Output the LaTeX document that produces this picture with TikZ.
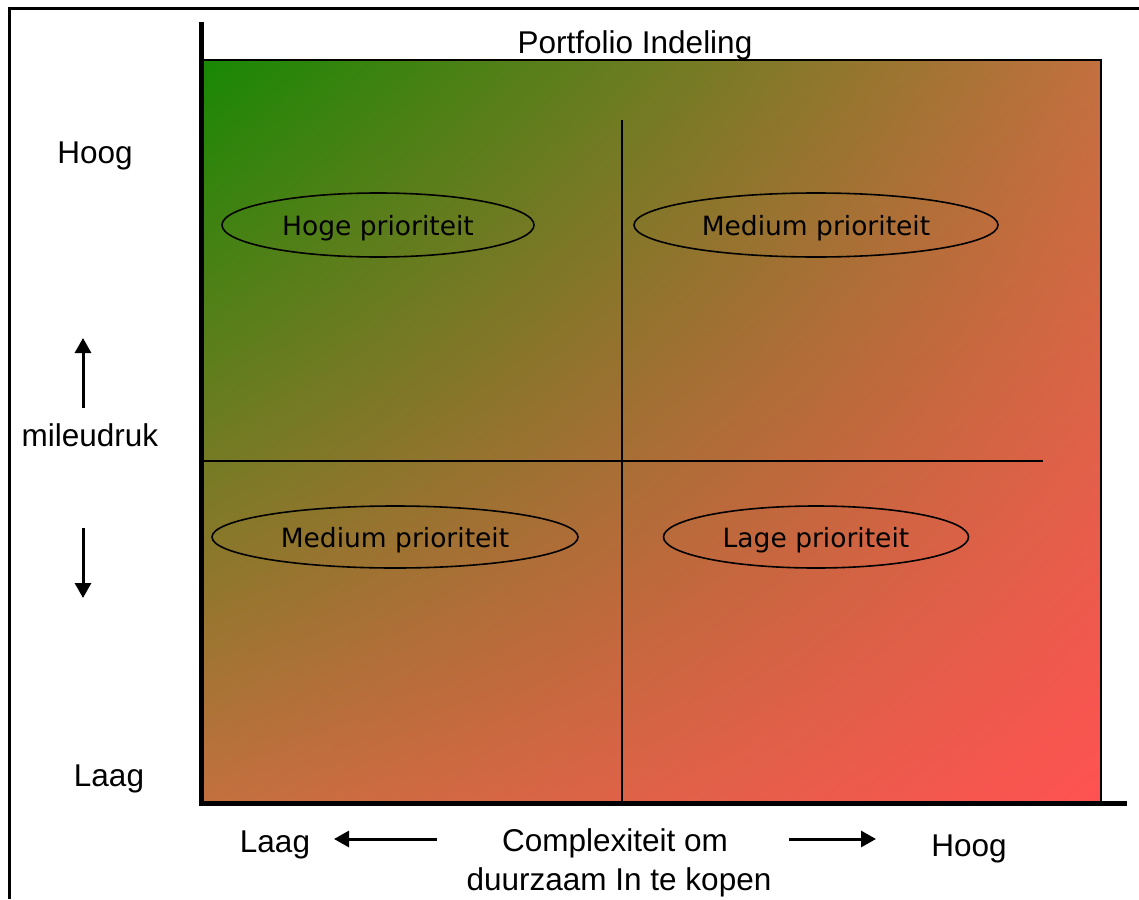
\documentclass[tikz,border=0pt]{standalone}
\usepackage{fontspec}
\setmainfont{Liberation Sans}
\newfontfamily\quadfont{DejaVu Sans}
\usepackage{xcolor}
\usetikzlibrary{shapes.geometric, arrows.meta, positioning, shadings}
\definecolor{PFGreen}{RGB}{24, 136, 4}
\definecolor{PFRed}{RGB}{255, 82, 82}
\definecolor{PFBrown}{RGB}{194, 112, 62}

\tikzset{
  axislabel/.style={font=\fontsize{31.5}{36}\selectfont, inner sep=0pt, anchor=base},
  prio/.style={ellipse, draw=black, line width=1.6pt, inner sep=0pt, text depth=0pt,
    font=\quadfont\fontsize{26.5}{30}\selectfont},
  dirarrow/.style={line width=3pt, -{Triangle[width=16pt, length=15pt]}}
}

\begin{document}
\begin{tikzpicture}[x=1pt, y=-1pt]
  \useasboundingbox (0,0) rectangle (1139,899);

  % outer frame
  \draw[line width=3pt] (1139,9) -- (9,9) -- (9,899);

  % portfolio field
  \shade[upper left=PFGreen, upper right=PFBrown, lower left=PFBrown, lower right=PFRed]
    (203,60) rectangle (1101,801);
  \draw[line width=2.5pt] (203,60) -- (1101,60) -- (1101,801);
  \draw[line width=1.5pt] (622,120) -- (622,801);
  \draw[line width=1.5pt] (203,461) -- (1043,461);

  % axes
  \draw[line width=5pt] (201,22) -- (201,803) -- (1127,803);

  \node[axislabel] (title) at (635,53) {Portfolio Indeling};

  % quadrants
  \node[prio, minimum width=312pt, minimum height=64pt] (hoge) at (378,225) {Hoge prioriteit};
  \node[prio, minimum width=364pt, minimum height=64pt] (medtop) at (816,225) {Medium prioriteit};
  \node[prio, minimum width=366pt, minimum height=62pt] (medlow) at (395,537) {Medium prioriteit};
  \node[prio, minimum width=305pt, minimum height=62pt] (lage) at (816,537) {Lage prioriteit};

  % vertical axis
  \node[axislabel] (yhigh) at (95,163) {Hoog};
  \node[axislabel] (ylabel) at (90,446) {mileudruk};
  \node[axislabel] (ylow) at (109,786) {Laag};
  \coordinate (uptail) at (83,408);
  \coordinate (uptip) at (83,338);
  \coordinate (downtail) at (83,528);
  \coordinate (downtip) at (83,598);
  \draw[dirarrow] (uptail) -- (uptip);
  \draw[dirarrow] (downtail) -- (downtip);

  % horizontal axis
  \node[axislabel] (xlow) at (275,852) {Laag};
  \node[axislabel] (xlabel) at (615,851) {Complexiteit om};
  \node[axislabel] (xlabel2) at (619,890) {duurzaam In te kopen};
  \node[axislabel] (xhigh) at (969,856) {Hoog};
  \coordinate (lefttail) at (437,839);
  \coordinate (lefttip) at (334,839);
  \coordinate (righttail) at (789,839);
  \coordinate (righttip) at (876,839);
  \draw[dirarrow] (lefttail) -- (lefttip);
  \draw[dirarrow] (righttail) -- (righttip);
\end{tikzpicture}
\end{document}
